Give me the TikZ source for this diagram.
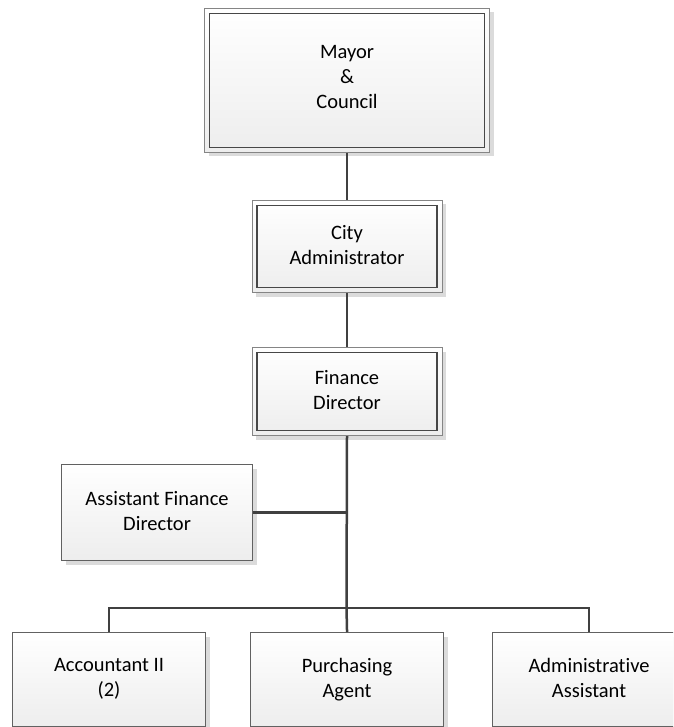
\documentclass[tikz,border=0pt]{standalone}
\usepackage{fontspec}
\setmainfont{Carlito}[Ligatures={NoCommon}]
\usetikzlibrary{shadows}
\newcommand{\boxstrut}{\rule[-4pt]{0pt}{26pt}}
\tikzset{
  box/.style={draw=black!62, line width=1.1pt, top color=white, bottom color=black!7,
    drop shadow={shadow xshift=4pt, shadow yshift=-4pt, fill=black!14, opacity=1},
    align=center, anchor=north west, inner sep=0pt,
    font=\fontsize{20.5}{25}\selectfont,
    execute at begin node=\boxstrut, execute at end node=\boxstrut},
  dbox/.style={box, draw=black!48, line width=1pt,
    path picture={\draw[black!72, line width=1.2pt]
      ([shift={(5pt,5pt)}]path picture bounding box.south west) rectangle
      ([shift={(-5pt,-5pt)}]path picture bounding box.north east);}},
  tallstrut/.style={execute at begin node=\strut, execute at end node=\strut},
  link/.style={draw=black!75, line width=2.5pt},
}
\begin{document}
\begin{tikzpicture}[x=1pt,y=-1pt]
  \useasboundingbox (0,0) rectangle (673,727);
  \fill[white] (0,0) rectangle (673,727);
  \clip (0,0) rectangle (673,727);

  % junction of the trunk with the horizontal bus
  \coordinate (bus) at (346.5,608);

  % upper chain
  \node[dbox, tallstrut, minimum width=285pt, minimum height=144pt] (mayor) at (204,8) {Mayor\\\&\\Council};
  \node[dbox, minimum width=190pt, minimum height=92pt] (city) at (251.5,200) {City\\Administrator};
  \node[dbox, minimum width=190pt, minimum height=88pt] (fin) at (251.5,347) {Finance\\Director};

  % staff position
  \node[box, minimum width=191pt, minimum height=96pt] (afd) at (61,464) {Assistant Finance\\Director};

  % bottom row
  \node[box, minimum width=193pt, minimum height=94pt] (acc) at (12,632) {Accountant II\\(2)};
  \node[box, minimum width=193pt, minimum height=94pt] (pur) at (250,632) {Purchasing\\Agent};
  \node[box, minimum width=193pt, minimum height=94pt] (adm) at (492,632) {Administrative\\Assistant};

  % connectors
  \draw[link] (mayor.south) -- (city.north);
  \draw[link] (city.south) -- (fin.north);
  \draw[link] (fin.south) -- (bus);
  \draw[link] (afd.east) -- (afd.east -| fin.south);
  \draw[link] (acc.north) |- (bus);
  \draw[link] (adm.north) |- (bus);
  \draw[link] (pur.north) -- (bus);
\end{tikzpicture}
\end{document}
